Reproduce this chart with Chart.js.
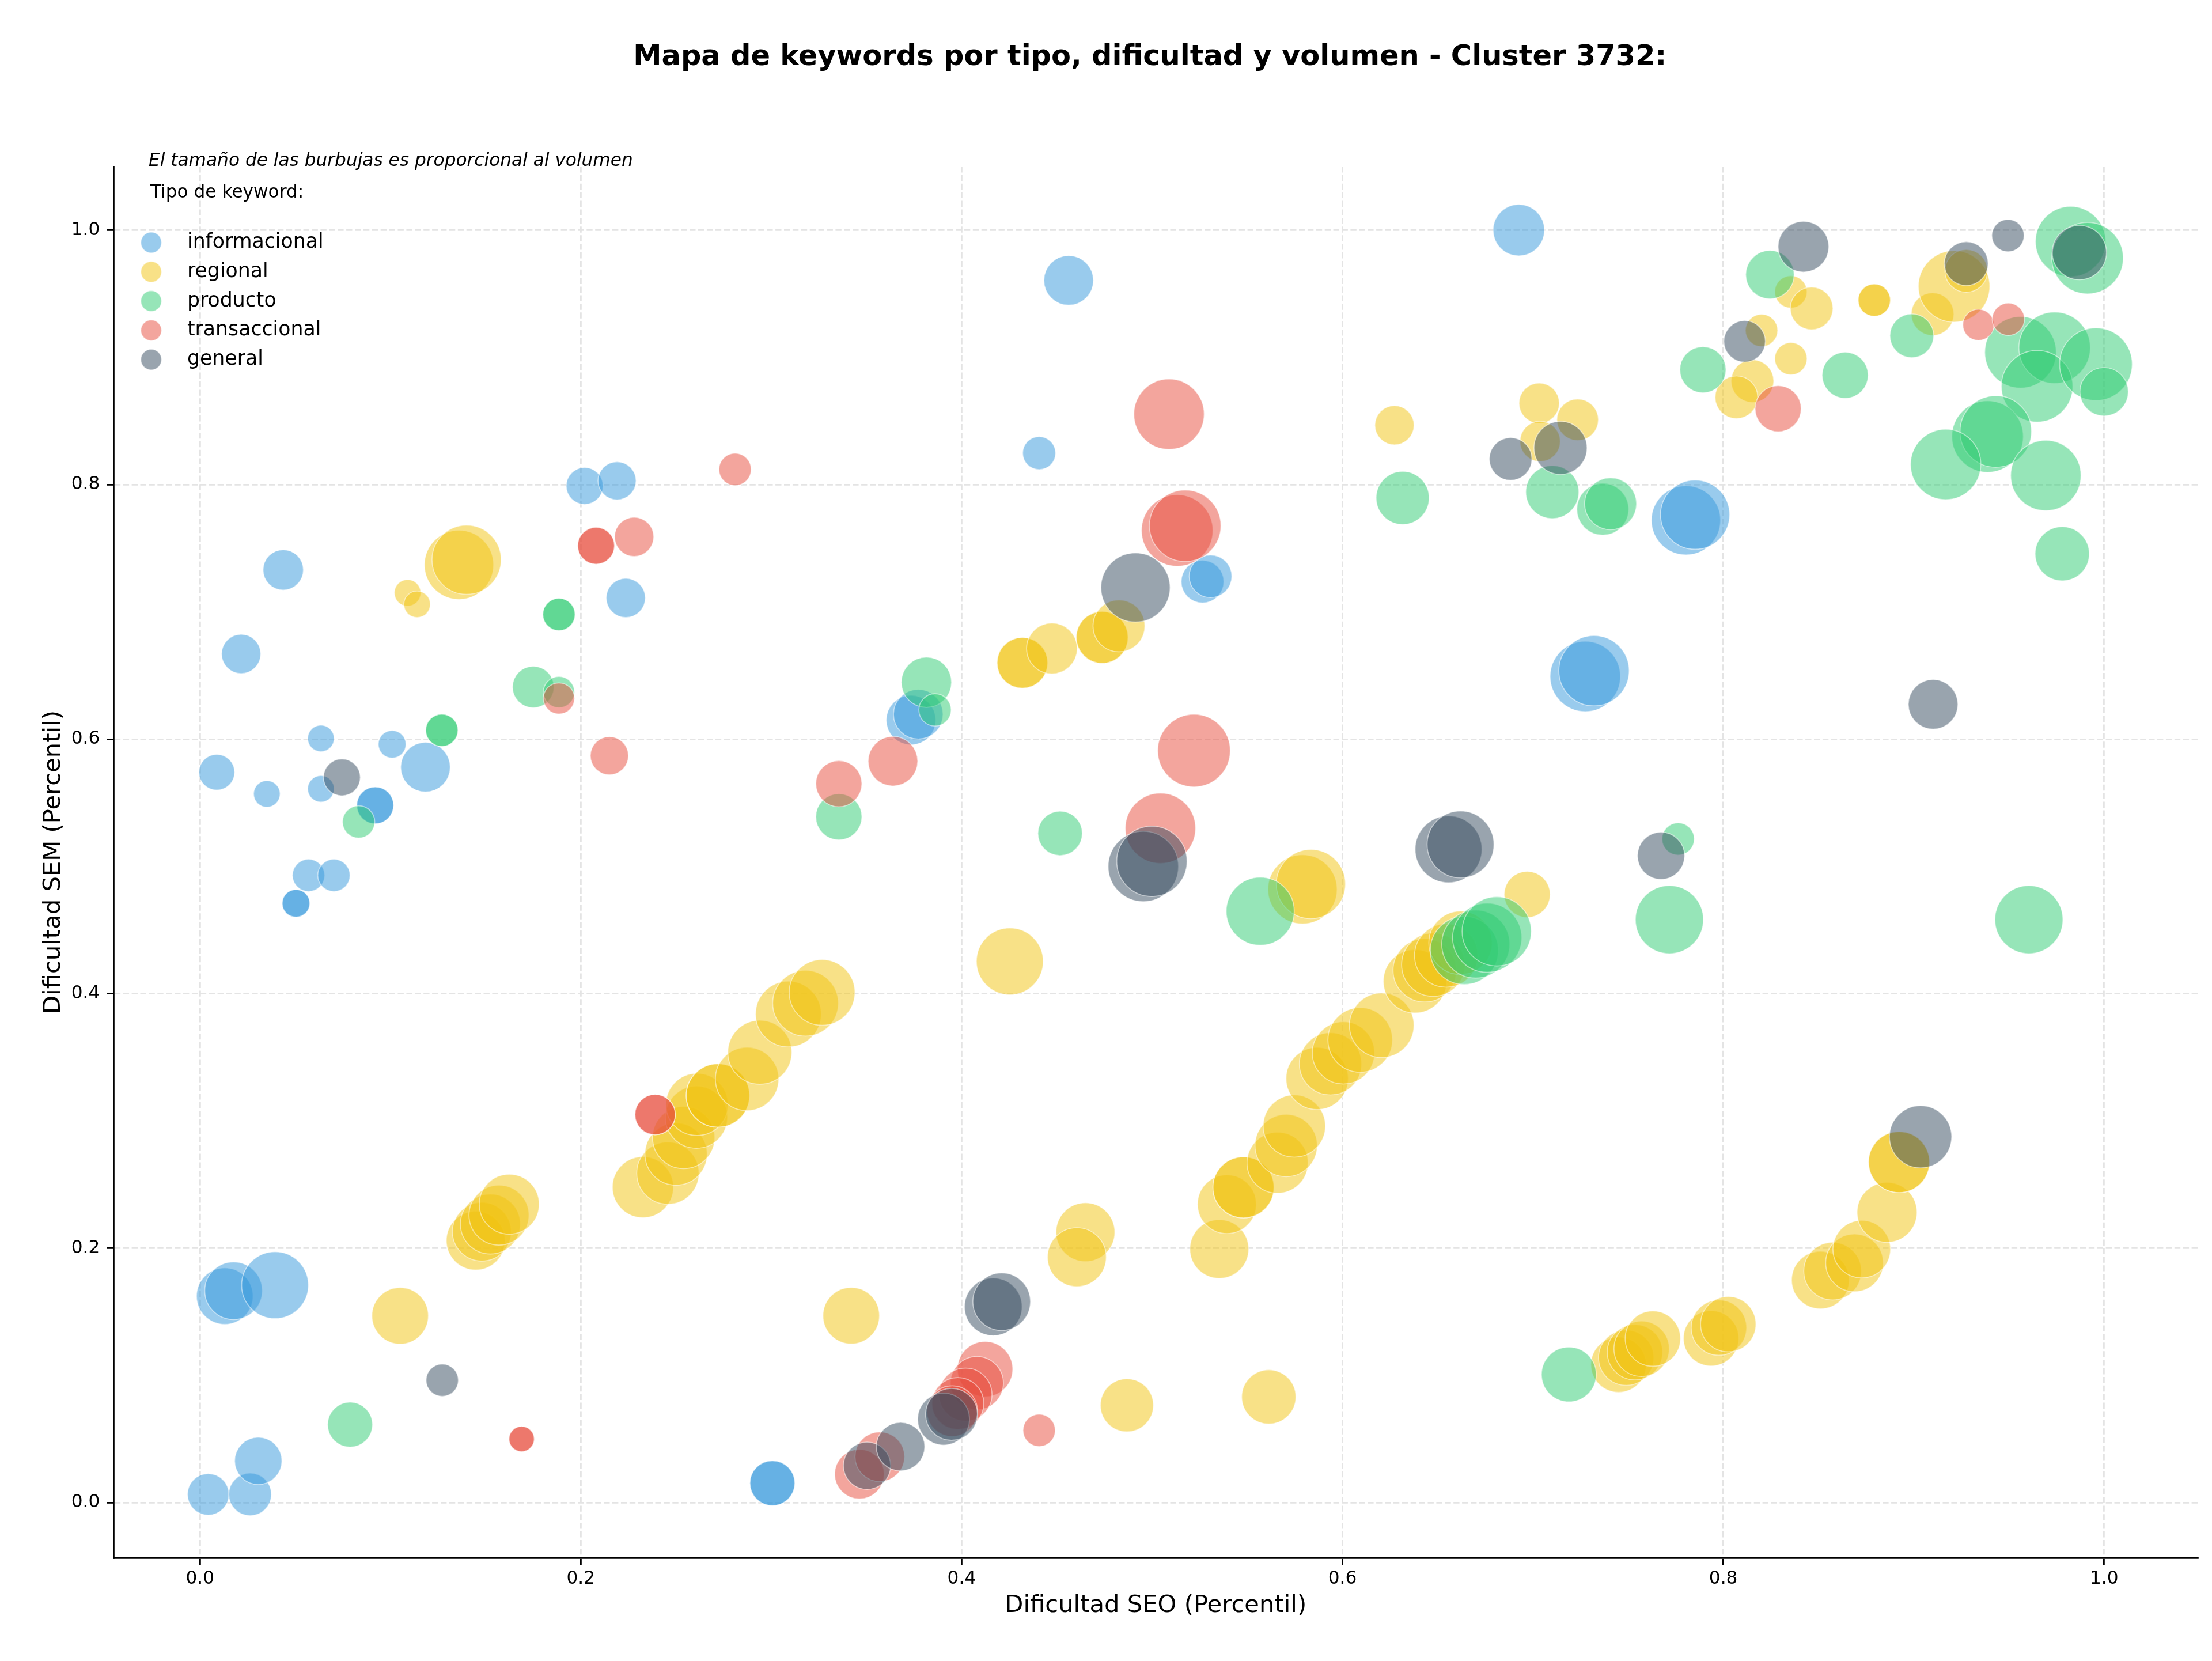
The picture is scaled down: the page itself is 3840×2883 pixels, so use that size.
<!DOCTYPE html>
<html><head><meta charset="utf-8">
<script src="https://cdn.jsdelivr.net/npm/chart.js@4.4.0/dist/chart.umd.min.js"></script>
<style>html,body{margin:0;padding:0;background:#fff;}canvas{display:block;}</style>
</head><body>
<canvas id="c" width="3840" height="2883" style="width:3840px;height:2883px"></canvas>
<script>
// ---------- DATA ----------
const chartTitle = 'Mapa de keywords por tipo, dificultad y volumen - Cluster 3732:';
const sizeNote = 'El tamaño de las burbujas es proporcional al volumen';
const legendTitle = 'Tipo de keyword:';
const xTitle = 'Dificultad SEO (Percentil)';
const yTitle = 'Dificultad SEM (Percentil)';
const categories = ['informacional', 'regional', 'producto', 'transaccional', 'general'];
const xTicks = [0.0, 0.2, 0.4, 0.6, 0.8, 1.0];
const yTicks = [0.0, 0.2, 0.4, 0.6, 0.8, 1.0];

const infoX = [0.0043,0.0263,0.0306,0.013,0.0176,0.0394,0.3006,0.3006,0.0088,0.0351,0.0635,0.0635,0.1009,0.092,0.092,0.1184,0.057,0.0703,0.0504,0.0504,0.0216,0.0437,0.202,0.219,0.2236,0.3734,0.3772,0.4407,0.4562,0.5265,0.5307,0.6926,0.7804,0.7852,0.7275,0.7321];
const infoY = [0.0066,0.0066,0.0329,0.1624,0.1666,0.171,0.0154,0.0154,0.574,0.557,0.561,0.6006,0.596,0.548,0.548,0.578,0.493,0.493,0.471,0.471,0.667,0.733,0.799,0.803,0.711,0.615,0.6196,0.8248,0.9605,0.7238,0.728,1.0,0.772,0.7764,0.6493,0.6538];
const infoVol = [3600,3800,4670,6670,6940,9340,4230,4230,2670,1470,1470,1470,1600,2840,2840,5140,2180,2180,1600,1600,3210,3400,2840,3030,3210,5140,5140,2270,5140,3800,3800,5530,10000,10000,10340,10340];

const regX = [0.136,0.140,0.109,0.114,0.1448,0.148,0.1525,0.157,0.1624,0.1051,
  0.2326,0.2457,0.250,0.254,0.2607,0.261,0.272,0.272,0.2873,0.294,0.309,0.318,0.3267,
  0.4253,0.4319,0.4319,0.4474,0.4738,0.4738,0.4826,0.342,0.465,0.4605,0.4868,0.5613,
  0.5353,0.5393,0.548,0.548,0.5659,0.5704,0.5747,0.5867,0.5937,0.6005,0.6093,0.6206,0.6381,0.6432,0.6477,0.6545,0.662,
  0.579,0.5834,0.697,0.6273,0.7033,0.7235,0.7038,0.8153,0.8069,0.8201,0.8355,0.8355,0.8464,0.8793,0.8793,0.9099,0.9212,0.9276,
  0.745,0.749,0.7536,0.7571,0.763,0.7936,0.7977,0.8026,0.851,0.8574,0.8689,0.8727,0.886,0.8923,0.8923];
const regY = [0.737,0.741,0.715,0.706,0.206,0.213,0.219,0.226,0.2346,0.1469,
  0.248,0.259,0.274,0.287,0.303,0.313,0.320,0.320,0.333,0.354,0.384,0.3925,0.401,
  0.4254,0.660,0.660,0.6713,0.68,0.68,0.689,0.147,0.2126,0.193,0.0766,0.0832,
  0.1994,0.2346,0.2478,0.2478,0.2672,0.2807,0.296,0.3334,0.3449,0.3535,0.3637,0.3752,0.4098,0.4184,0.4228,0.43,0.44,
  0.482,0.4862,0.478,0.8467,0.864,0.851,0.834,0.8814,0.8687,0.9212,0.899,0.9515,0.9385,0.945,0.945,0.934,0.9558,0.968,
  0.1085,0.114,0.1183,0.121,0.129,0.1292,0.1376,0.1403,0.175,0.182,0.1885,0.1993,0.2282,0.2677,0.2677];
const regVol = [10000,10000,1470,1470,7230,7230,7510,7510,7510,6670,
  7800,8100,8100,8100,8100,8100,8400,8400,8400,8560,9030,9030,9030,
  9340,5380,5380,5380,5630,5630,5630,6670,7230,7230,5880,6140,
  7230,7230,7800,7800,7800,8100,8100,8100,8100,8100,8710,8710,8400,8400,8400,8400,8400,
  10000,10000,4440,3210,3400,3600,3400,3800,3800,2180,2180,2180,3800,2180,2180,3800,10680,3800,
  6400,6400,6400,6400,6400,6400,6400,6400,6940,6940,6940,6940,7510,7800,7800];

const prodX = [0.0788,0.0833,0.127,0.127,0.175,0.1885,0.1885,0.1885,0.3355,0.3815,0.386,0.4517,0.5568,
  0.664,0.670,0.676,0.681,0.7717,0.7763,0.9605,0.7189,0.6316,0.7102,0.7367,0.7408,0.7893,0.8245,0.864,0.899,
  0.9824,0.9913,0.9561,0.974,0.9648,0.9957,1.0,0.9388,0.9431,0.9168,0.9694,0.978];
const prodY = [0.0614,0.535,0.607,0.607,0.641,0.637,0.698,0.698,0.539,0.6447,0.623,0.526,0.4648,
  0.434,0.439,0.444,0.449,0.4582,0.5216,0.4582,0.1008,0.7896,0.7942,0.7807,0.785,0.8903,0.965,0.886,0.917,
  0.991,0.978,0.904,0.9076,0.8773,0.8947,0.873,0.8378,0.8418,0.8159,0.8072,0.7457];
const prodVol = [4230,2180,2180,2180,3600,2030,2180,2180,4440,5260,2180,4120,9670,
  9670,9670,10000,10000,9670,2180,9670,6270,5880,5880,5630,5630,4440,4900,4440,4010,
  10340,10680,10680,10680,10680,11030,4900,10680,10680,10340,10340,6140];

const transX = [0.1689,0.1689,0.1885,0.208,0.208,0.228,0.281,0.215,0.239,0.239,0.3355,0.3639,0.4407,0.3463,0.357,
  0.4123,0.408,0.402,0.398,0.395,0.5089,0.5132,0.5174,0.522,0.5044,0.8288,0.934,0.9497];
const transY = [0.0501,0.0501,0.632,0.752,0.752,0.759,0.812,0.587,0.305,0.305,0.565,0.5827,0.0569,0.0225,0.0362,
  0.105,0.094,0.085,0.078,0.072,0.8554,0.764,0.7677,0.591,0.530,0.8597,0.9256,0.93];
const transVol = [1340,1340,2030,2840,2840,3210,2180,3030,3400,3400,4440,5140,2180,5140,5140,
  6400,5880,5880,5630,5380,10340,10680,10680,11030,10340,4440,2030,2180];

const genX = [0.1272,0.0745,0.3503,0.3679,0.3905,0.3947,0.4166,0.421,0.4913,0.4954,0.4999,0.6557,0.662,
  0.6883,0.7145,0.7673,0.8112,0.8421,0.9102,0.9036,0.9495,0.9276,0.987];
const genY = [0.0963,0.570,0.0291,0.0441,0.0657,0.0695,0.154,0.158,0.7192,0.500,0.504,0.5135,0.5173,
  0.8202,0.8289,0.5084,0.9126,0.987,0.6274,0.2876,0.9957,0.9737,0.9824];
const genVol = [2180,2840,4670,4900,5630,5630,6940,6940,10000,10340,10340,9340,9340,
  3800,5880,4670,3600,5380,5140,8100,2180,4010,6140];

// ---------- STYLE ----------
const rgb = ['52,152,219', '241,196,15', '46,204,113', '231,76,60', '52,73,94'];
const FONT = '"DejaVu Sans", "Liberation Sans", sans-serif';
const radiusOf = v => 0.6 * Math.sqrt(v);

const seriesX = [infoX, regX, prodX, transX, genX];
const seriesY = [infoY, regY, prodY, transY, genY];
const seriesV = [infoVol, regVol, prodVol, transVol, genVol];

const datasets = categories.map((name, k) => ({
  label: name,
  data: seriesX[k].map((x, i) => ({ x: x, y: seriesY[k][i], r: radiusOf(seriesV[k][i]) })),
  backgroundColor: 'rgba(' + rgb[k] + ',0.5)',
  borderColor: 'rgba(255,255,255,0.5)',
  borderWidth: 1.7,
  hoverBorderWidth: 1.7,
  hoverRadius: 0,
  order: categories.length - k
}));

const overlay = {
  id: 'overlay',
  afterDraw(chart) {
    const ctx = chart.ctx;
    const a = chart.chartArea;
    ctx.save();
    ctx.fillStyle = '#000';
    ctx.textBaseline = 'middle';
    // title
    ctx.textAlign = 'center';
    ctx.font = 'bold 49.5px ' + FONT;
    ctx.fillText(chartTitle, (a.left + a.right) / 2 - 10, 100);
    // note
    ctx.textAlign = 'left';
    ctx.font = 'italic 31.2px ' + FONT;
    ctx.fillText(sizeNote, a.left + 60.5, a.top - 9);
    // legend title
    ctx.font = '31.2px ' + FONT;
    ctx.fillText(legendTitle, a.left + 63.5, a.top + 46);
    // legend entries
    ctx.font = '34.7px ' + FONT;
    categories.forEach((name, k) => {
      const cy = a.top + 132 + k * 50.8;
      ctx.beginPath();
      ctx.arc(a.left + 65, cy, 18, 0, Math.PI * 2);
      ctx.fillStyle = 'rgba(' + rgb[k] + ',0.5)';
      ctx.fill();
      ctx.lineWidth = 1.7;
      ctx.strokeStyle = 'rgba(255,255,255,0.5)';
      ctx.stroke();
      ctx.fillStyle = '#000';
      ctx.fillText(name, a.left + 127.5, cy);
    });
    ctx.restore();
  }
};

const axisCommon = (ticksArr) => ({
  type: 'linear',
  afterBuildTicks: s => { s.ticks = ticksArr.map(v => ({ value: v })); },
  ticks: {
    callback: v => Number(v).toFixed(1),
    font: { family: FONT, size: 31.2 },
    color: '#000',
    autoSkip: false,
    maxRotation: 0
  },
  grid: {
    color: '#e4e4e4',
    lineWidth: 2.8,
    drawTicks: true,
    tickLength: 12.2,
    tickColor: '#000',
    tickWidth: 2.8,
    tickBorderDash: []
  },
  border: { display: true, color: '#000', width: 2.8, dash: [10.4, 4.5] }
});

const xScale = Object.assign(axisCommon(xTicks), {
  position: 'bottom', min: -0.0453, max: 1.0491,
  afterFit: s => { s.height = 179; },
  title: { display: true, text: xTitle, color: '#000', font: { family: FONT, size: 41.7 }, padding: { top: 0, bottom: 71 } }
});
xScale.ticks.padding = 6;
const yScale = Object.assign(axisCommon(yTicks), {
  position: 'left', min: -0.0433, max: 1.050,
  afterFit: s => { s.width = 197.5; },
  title: { display: true, text: yTitle, color: '#000', font: { family: FONT, size: 41.7 }, padding: { top: 68, bottom: 0 } }
});
yScale.ticks.padding = 12;

new Chart(document.getElementById('c'), {
  type: 'bubble',
  data: { datasets: datasets },
  options: {
    responsive: false,
    animation: false,
    devicePixelRatio: 1,
    events: [],
    layout: { padding: { top: 289, right: 25, bottom: 0, left: 0 }, autoPadding: false },
    plugins: { legend: { display: false }, title: { display: false }, tooltip: { enabled: false } },
    scales: { x: xScale, y: yScale }
  },
  plugins: [overlay]
});
</script>
</body></html>
